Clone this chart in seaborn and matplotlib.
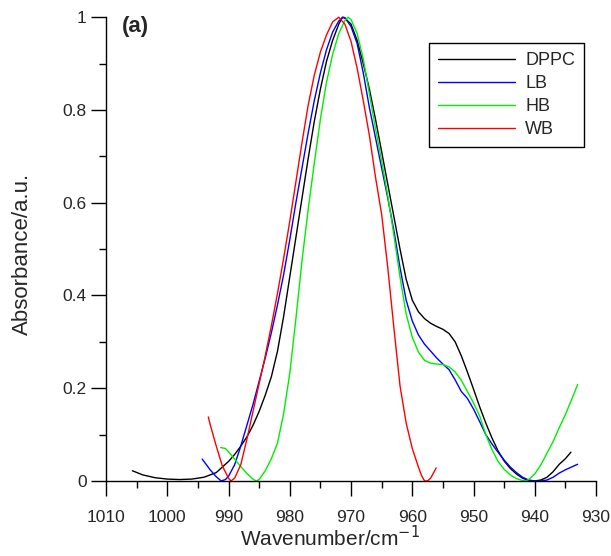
import numpy as np
import pandas as pd
import seaborn as sns
import matplotlib
matplotlib.use("Agg")
import matplotlib.pyplot as plt
from matplotlib.ticker import MultipleLocator, FuncFormatter

# values (wavenumber, absorbance)
dppc_x = [1005.7, 1004, 1002, 1000, 998, 996, 994, 992, 990, 989, 988, 987, 986, 985, 984,
          983, 982, 981, 980, 979, 978, 977, 976, 975, 974, 973, 972, 971.4, 971, 970, 969,
          968, 967, 966, 965, 964, 963, 962, 961, 960, 959, 958, 957, 956, 955, 954, 953,
          952, 951, 950, 949, 948, 947, 946, 945, 944, 943, 942, 941, 940, 939, 938, 937,
          936, 935, 934.1]
dppc_y = [0.022, 0.013, 0.007, 0.004, 0.003, 0.004, 0.008, 0.018, 0.042, 0.057, 0.075, 0.095,
          0.12, 0.15, 0.185, 0.225, 0.28, 0.355, 0.44, 0.525, 0.61, 0.695, 0.775, 0.845, 0.905,
          0.95, 0.985, 1.0, 0.998, 0.985, 0.95, 0.9, 0.845, 0.78, 0.71, 0.64, 0.57, 0.5, 0.435,
          0.39, 0.365, 0.35, 0.34, 0.333, 0.327, 0.318, 0.3, 0.27, 0.235, 0.198, 0.16, 0.125,
          0.093, 0.065, 0.043, 0.027, 0.015, 0.006, 0.001, 0.0, 0.002, 0.008, 0.02, 0.036,
          0.048, 0.062]

lb_x = [994.3, 994, 993, 992, 991.2, 990.5, 990, 989, 988, 987, 986, 985, 984, 983, 982, 981,
        980, 979, 978, 977, 976, 975, 974, 973, 972, 971.3, 971, 970, 969, 968, 967, 966, 965,
        964, 963, 962, 961, 960, 959, 958, 957, 956, 955, 954, 953, 952, 951, 950, 949, 948,
        947, 946, 945, 944, 943, 942, 941, 940, 939, 938, 937, 936, 935, 934, 933]
lb_y = [0.047, 0.042, 0.024, 0.009, 0.0, 0.003, 0.01, 0.035, 0.075, 0.12, 0.165, 0.215, 0.265,
        0.32, 0.38, 0.445, 0.52, 0.6, 0.675, 0.75, 0.82, 0.88, 0.93, 0.968, 0.992, 1.0, 0.999,
        0.98, 0.943, 0.88, 0.805, 0.74, 0.675, 0.61, 0.54, 0.46, 0.39, 0.345, 0.315, 0.295,
        0.28, 0.265, 0.252, 0.24, 0.218, 0.193, 0.178, 0.155, 0.128, 0.1, 0.08, 0.062, 0.045,
        0.03, 0.018, 0.008, 0.002, 0.0, 0.0, 0.002, 0.008, 0.017, 0.024, 0.03, 0.036]

hb_x = [991.3, 990.5, 990, 989, 988, 987, 986, 985.5, 985, 984, 983, 982, 981, 980, 979, 978,
        977, 976, 975, 974, 973, 972, 971, 970.5, 970, 969, 968, 967, 966, 965, 964, 963, 962,
        961, 960, 959, 958, 957, 956, 955, 954, 953, 952, 951, 950, 949, 948, 947, 946, 945,
        944, 943, 942, 941.5, 941, 940, 939, 938, 937, 936, 935, 934, 933]
hb_y = [0.072, 0.07, 0.063, 0.047, 0.031, 0.016, 0.004, 0.0, 0.003, 0.022, 0.048, 0.082, 0.145,
        0.232, 0.35, 0.475, 0.585, 0.685, 0.78, 0.86, 0.92, 0.965, 0.993, 1.0, 0.995, 0.965,
        0.91, 0.835, 0.76, 0.69, 0.615, 0.53, 0.44, 0.36, 0.31, 0.278, 0.26, 0.254, 0.252,
        0.251, 0.246, 0.235, 0.217, 0.193, 0.168, 0.14, 0.1, 0.068, 0.042, 0.025, 0.013, 0.005,
        0.001, 0.0, 0.003, 0.015, 0.035, 0.06, 0.085, 0.115, 0.143, 0.175, 0.208]

wb_x = [993.3, 993, 992, 991, 990, 989.6, 989, 988, 987, 986, 985, 984, 983, 982, 981, 980,
        979, 978, 977, 976, 975, 974, 973, 972, 971, 970, 969, 968, 967, 966, 965, 964, 963,
        962, 961, 960, 959, 958.5, 958, 957.5, 957, 956.1]
wb_y = [0.138, 0.122, 0.075, 0.032, 0.006, 0.0, 0.006, 0.035, 0.09, 0.15, 0.21, 0.27, 0.335,
        0.405, 0.48, 0.56, 0.645, 0.73, 0.81, 0.875, 0.925, 0.962, 0.99, 1.0, 0.985, 0.948,
        0.89, 0.82, 0.745, 0.655, 0.575, 0.46, 0.33, 0.205, 0.125, 0.07, 0.03, 0.012, 0.0,
        0.0, 0.006, 0.028]

samples = ["DPPC", "LB", "HB", "WB"]
colors = ["#000000", "#0000ff", "#00ee00", "#ff0000"]

frames = []
for name, xs, ys in zip(samples, [dppc_x, lb_x, hb_x, wb_x], [dppc_y, lb_y, hb_y, wb_y]):
    frames.append(pd.DataFrame({"wavenumber": xs, "absorbance": ys, "sample": name}))
df = pd.concat(frames, ignore_index=True)

sns.set_style("ticks")
plt.rcParams["font.family"] = ["Liberation Sans", "DejaVu Sans"]

fig = plt.figure(figsize=(6.11, 5.56), dpi=100)
ax = fig.add_axes([0.1735, 0.135, 0.8020, 0.834])

sns.lineplot(data=df, x="wavenumber", y="absorbance", hue="sample",
             palette=dict(zip(samples, colors)), hue_order=samples,
             estimator=None, sort=False, linewidth=1.0, ax=ax)
for line in ax.lines:
    line.set_clip_on(False)

ax.set_xlim(1010, 930)
ax.set_ylim(0, 1)
ax.xaxis.set_major_locator(MultipleLocator(10))
ax.xaxis.set_minor_locator(MultipleLocator(5))
ax.yaxis.set_major_locator(MultipleLocator(0.2))
ax.yaxis.set_minor_locator(MultipleLocator(0.1))
ax.yaxis.set_major_formatter(FuncFormatter(lambda v, p: "%g" % round(v, 2)))
ax.tick_params(which="major", length=11, width=1.0, labelsize=12.5, color="black")
ax.tick_params(which="minor", length=5, width=1.0, color="black")
ax.tick_params(axis="x", which="major", pad=10)
ax.tick_params(axis="y", which="major", pad=3)
sns.despine(ax=ax)
for s in ["left", "bottom"]:
    ax.spines[s].set_linewidth(1.0)
    ax.spines[s].set_color("black")

ax.set_xlabel("Wavenumber/cm$^{-1}$", fontsize=15)
ax.set_ylabel("Absorbance/a.u.", fontsize=16)
ax.xaxis.set_label_coords(0.458, -0.095)
ax.yaxis.set_label_coords(-0.15, 0.489)
ax.text(1007.4, 0.98, "(a)", fontsize=16, fontweight="bold", va="center", ha="left")

leg = ax.legend(loc="upper right", bbox_to_anchor=(0.9755, 0.9446), borderaxespad=0,
                fontsize=13, handlelength=4.3, handletextpad=0.55, labelspacing=0.34,
                borderpad=0.5, fancybox=False, framealpha=1, edgecolor="black", title=None)
leg.get_frame().set_linewidth(1.0)
for h in leg.get_lines():
    h.set_linewidth(1.0)

fig.savefig("out.png", dpi=100)
